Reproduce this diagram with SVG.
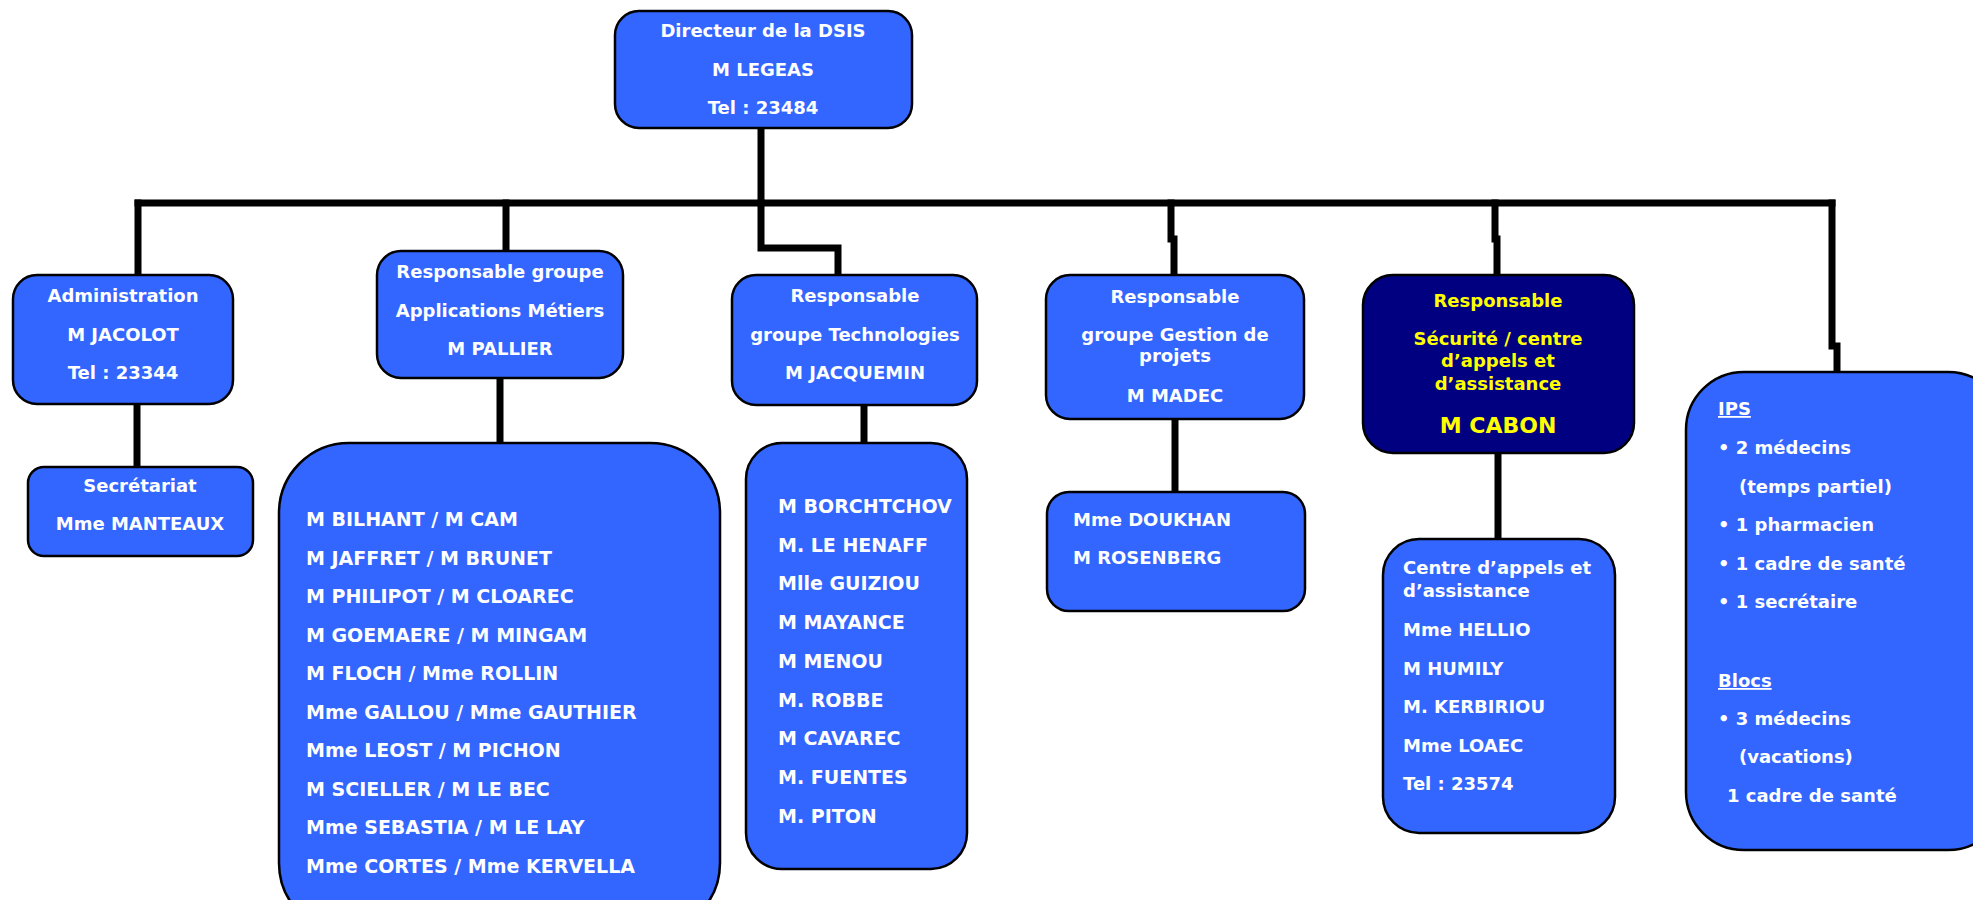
<svg xmlns="http://www.w3.org/2000/svg" width="1973" height="900" viewBox="0 0 1973 900">
<style>
.box{fill:#3366FF;stroke:#000;stroke-width:2.5}
.dark{fill:#000080;stroke:#000;stroke-width:2.5}
text{font-family:"DejaVu Sans","Verdana",sans-serif;font-weight:bold;fill:#fff;font-size:18px}
.c{text-anchor:middle}
.y{fill:#FFFF00}
.l{font-size:19px}
.u{text-decoration:underline}
.conn{fill:none;stroke:#000;stroke-width:7;stroke-linejoin:miter;stroke-linecap:square}
</style>
<rect width="1973" height="900" fill="#fff"/>
<g id="connectors">
<path class="conn" d="M761,128 V203"/>
<path class="conn" d="M138,203 H1832"/>
<path class="conn" d="M138,203 V275"/>
<path class="conn" d="M506,203 V251"/>
<path class="conn" d="M761,203 V248 H838 V275"/>
<path class="conn" d="M1171,203 V239 H1174 V275"/>
<path class="conn" d="M1495,203 V239 H1497 V275"/>
<path class="conn" d="M1832,203 V346 H1837 V372"/>
<path class="conn" d="M137,404 V467"/>
<path class="conn" d="M500,378 V443"/>
<path class="conn" d="M864,405 V443"/>
<path class="conn" d="M1175,419 V492"/>
<path class="conn" d="M1498,453 V539"/>
</g>
<g id="director">
<rect class="box" x="615" y="11" width="297" height="117" rx="24"/>
<text class="c" x="763" y="37">Directeur de la DSIS</text>
<text class="c" x="763" y="76">M LEGEAS</text>
<text class="c" x="763" y="114">Tel : 23484</text>
</g>
<g id="admin">
<rect class="box" x="13" y="275" width="220" height="129" rx="24"/>
<text class="c" x="123" y="302">Administration</text>
<text class="c" x="123" y="341">M JACOLOT</text>
<text class="c" x="123" y="379">Tel : 23344</text>
</g>
<g id="secretariat">
<rect class="box" x="28" y="467" width="225" height="89" rx="16"/>
<text class="c" x="140" y="492">Secrétariat</text>
<text class="c" x="140" y="530">Mme MANTEAUX</text>
</g>
<g id="apps">
<rect class="box" x="377" y="251" width="246" height="127" rx="24"/>
<text class="c" x="500" y="278">Responsable groupe</text>
<text class="c" x="500" y="317">Applications Métiers</text>
<text class="c" x="500" y="355">M PALLIER</text>
</g>
<g id="apps-list">
<rect class="box" x="279" y="443" width="441" height="490" rx="70"/>
<text class="l" x="306" y="526">M BILHANT / M CAM</text>
<text class="l" x="306" y="565">M JAFFRET / M BRUNET</text>
<text class="l" x="306" y="603">M PHILIPOT / M CLOAREC</text>
<text class="l" x="306" y="642">M GOEMAERE / M MINGAM</text>
<text class="l" x="306" y="680">M FLOCH / Mme ROLLIN</text>
<text class="l" x="306" y="719">Mme GALLOU / Mme GAUTHIER</text>
<text class="l" x="306" y="757">Mme LEOST / M PICHON</text>
<text class="l" x="306" y="796">M SCIELLER / M LE BEC</text>
<text class="l" x="306" y="834">Mme SEBASTIA / M LE LAY</text>
<text class="l" x="306" y="873">Mme CORTES / Mme KERVELLA</text>
</g>
<g id="tech">
<rect class="box" x="732" y="275" width="245" height="130" rx="24"/>
<text class="c" x="855" y="302">Responsable</text>
<text class="c" x="855" y="341">groupe Technologies</text>
<text class="c" x="855" y="379">M JACQUEMIN</text>
</g>
<g id="tech-list">
<rect class="box" x="746" y="443" width="221" height="426" rx="36"/>
<text class="l" x="778" y="513">M BORCHTCHOV</text>
<text class="l" x="778" y="552">M. LE HENAFF</text>
<text class="l" x="778" y="590">Mlle GUIZIOU</text>
<text class="l" x="778" y="629">M MAYANCE</text>
<text class="l" x="778" y="668">M MENOU</text>
<text class="l" x="778" y="707">M. ROBBE</text>
<text class="l" x="778" y="745">M CAVAREC</text>
<text class="l" x="778" y="784">M. FUENTES</text>
<text class="l" x="778" y="823">M. PITON</text>
</g>
<g id="gestion">
<rect class="box" x="1046" y="275" width="258" height="144" rx="24"/>
<text class="c" x="1175" y="303">Responsable</text>
<text class="c" x="1175" y="341">groupe Gestion de</text>
<text class="c" x="1175" y="362">projets</text>
<text class="c" x="1175" y="402">M MADEC</text>
</g>
<g id="gestion-list">
<rect class="box" x="1047" y="492" width="258" height="119" rx="22"/>
<text x="1073" y="526">Mme DOUKHAN</text>
<text x="1073" y="564">M ROSENBERG</text>
</g>
<g id="securite">
<rect class="dark" x="1363" y="275" width="271" height="178" rx="30"/>
<text class="c y" x="1498" y="307">Responsable</text>
<text class="c y" x="1498" y="345">Sécurité / centre</text>
<text class="c y" x="1498" y="367">d’appels et</text>
<text class="c y" x="1498" y="390">d’assistance</text>
<text class="c y" x="1498" y="433" style="font-size:22px">M CABON</text>
</g>
<g id="centre">
<rect class="box" x="1383" y="539" width="232" height="294" rx="36"/>
<text x="1403" y="574">Centre d’appels et</text>
<text x="1403" y="597">d’assistance</text>
<text x="1403" y="636">Mme HELLIO</text>
<text x="1403" y="675">M HUMILY</text>
<text x="1403" y="713">M. KERBIRIOU</text>
<text x="1403" y="752">Mme LOAEC</text>
<text x="1403" y="790">Tel : 23574</text>
</g>
<g id="ips">
<rect class="box" x="1686" y="372" width="320" height="478" rx="58"/>
<text class="u" x="1718" y="415">IPS</text>
<text x="1718" y="454">• 2 médecins</text>
<text x="1739" y="493">(temps partiel)</text>
<text x="1718" y="531">• 1 pharmacien</text>
<text x="1718" y="570">• 1 cadre de santé</text>
<text x="1718" y="608">• 1 secrétaire</text>
<text class="u" x="1718" y="687">Blocs</text>
<text x="1718" y="725">• 3 médecins</text>
<text x="1739" y="763">(vacations)</text>
<text x="1727" y="802">1 cadre de santé</text>
</g>
</svg>
